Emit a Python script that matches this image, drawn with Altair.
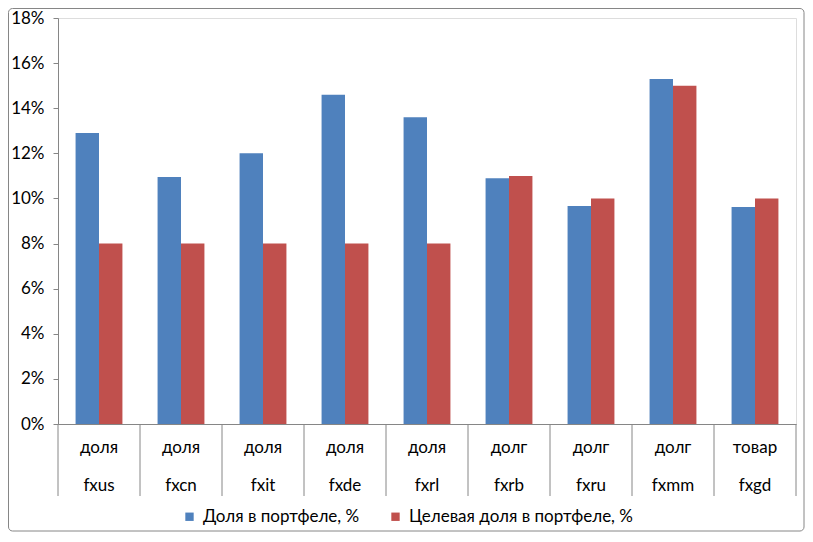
import altair as alt
import pandas as pd

categories = ["fxus", "fxcn", "fxit", "fxde", "fxrl", "fxrb", "fxru", "fxmm", "fxgd"]
groups = ["доля", "доля", "доля", "доля", "доля", "долг", "долг", "долг", "товар"]
share = [12.9, 10.95, 12.0, 14.6, 13.6, 10.9, 9.67, 15.3, 9.62]
target = [8, 8, 8, 8, 8, 11, 10, 15, 10]
series_names = ["Доля в портфеле, %", "Целевая доля в портфеле, %"]
colors = ["#4F81BD", "#C0504D"]

W, H = 738, 406
FONT = "Lato"
FS = 17

# Excel-like layout: gap width 150% -> bar width = 1/3.5 of a category
bw = 1 / 3.5
start = 0.75 * bw

rows = []
for i, c in enumerate(categories):
    for s, vals in enumerate([share, target]):
        rows.append({
            "cat": c, "series": series_names[s], "value": vals[i] / 100, "base": 0.0,
            "x0": i + start + s * bw, "x1": i + start + (s + 1) * bw,
        })
bars_df = pd.DataFrame(rows)
lab_df = pd.DataFrame({"xc": [i + 0.5 for i in range(len(categories))],
                       "cat": categories, "grp": groups})
sep_df = pd.DataFrame({"xb": list(range(len(categories) + 1))})

xscale = alt.Scale(domain=[0, len(categories)], nice=False, zero=False)
yscale = alt.Scale(domain=[0, 0.18], nice=False)

border = alt.Chart(pd.DataFrame({"a": [0]})).mark_rect(
    fillOpacity=0, stroke="#868686", strokeWidth=1, cornerRadius=4
).encode(x=alt.value(-49.5), x2=alt.value(W + 8), y=alt.value(-9.5), y2=alt.value(H + 107))

bars = alt.Chart(bars_df).mark_bar().encode(
    x=alt.X("x0:Q", scale=xscale, axis=alt.Axis(
        title=None, labels=False, ticks=False, grid=False,
        domainColor="#868686", values=[])),
    x2="x1:Q",
    y=alt.Y("value:Q", scale=yscale, axis=alt.Axis(
        title=None, format=".0%", values=[i / 100 for i in range(0, 19, 2)],
        grid=False, tickSize=5, tickColor="#868686", domainColor="#868686",
        labelFont=FONT, labelFontSize=FS, labelColor="#000000", labelPadding=9)),
    y2="base:Q",
    color=alt.Color("series:N", scale=alt.Scale(domain=series_names, range=colors),
                    sort=series_names,
                    legend=alt.Legend(title=None, orient="none", direction="horizontal",
                                      legendX=123, legendY=490, symbolType="square",
                                      symbolSize=70, symbolStrokeWidth=0,
                                      labelFont=FONT, labelFontSize=FS, labelLimit=0,
                                      labelColor="#000000", columnPadding=27,
                                      labelOffset=5)),
)

seps = alt.Chart(sep_df).mark_rule(color="#868686", strokeWidth=1).encode(
    x=alt.X("xb:Q", scale=xscale), y=alt.value(H), y2=alt.value(H + 72))

grp_text = alt.Chart(lab_df).mark_text(font=FONT, fontSize=FS, color="#000000",
                                       baseline="middle").encode(
    x=alt.X("xc:Q", scale=xscale), y=alt.value(H + 24), text="grp:N")
cat_text = alt.Chart(lab_df).mark_text(font=FONT, fontSize=FS, color="#000000",
                                       baseline="middle").encode(
    x=alt.X("xc:Q", scale=xscale), y=alt.value(H + 62), text="cat:N")

chart = alt.layer(border, bars, seps, grp_text, cat_text).properties(
    width=W, height=H,
    autosize=alt.AutoSizeParams(type="none"),
    padding={"left": 50, "top": 10, "right": 9, "bottom": 108},
).configure_view(stroke=None).configure(background="white")

chart.save("out.html", embed_options={"renderer": "svg", "actions": False})
